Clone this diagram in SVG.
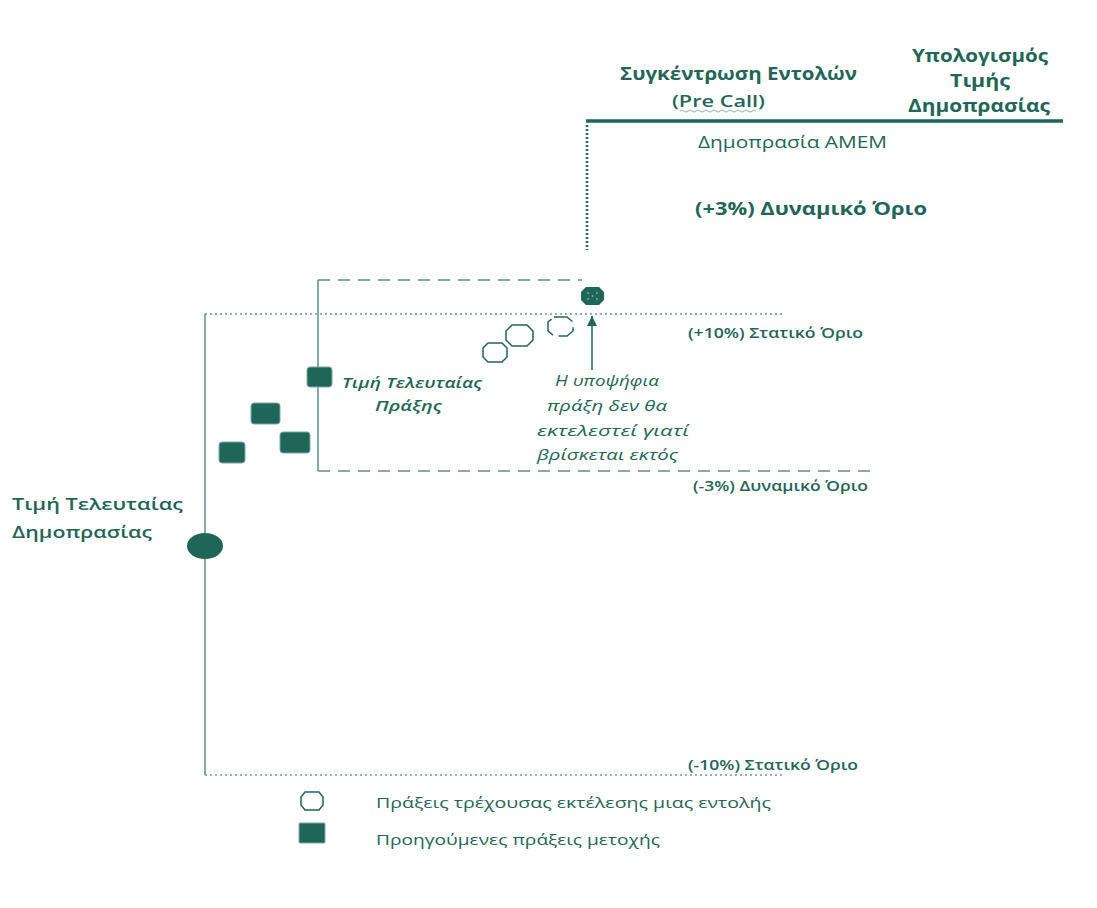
<svg xmlns="http://www.w3.org/2000/svg" width="1097" height="908" viewBox="0 0 1097 908">
<defs>
<style>
text{font-family:"Open Sans","Noto Sans","DejaVu Sans",sans-serif;fill:#1f6658}
.b{font-weight:700}
.sb{font-weight:600}
.it{font-style:italic}
.dash{stroke:#5f8f86;stroke-width:1.5;fill:none;stroke-dasharray:12 8}
.dot{stroke:#6f9a92;stroke-width:1.5;fill:none;stroke-dasharray:2 3}
.sol{stroke:#5f8f86;stroke-width:1.5;fill:none}
.prev{fill:#1f6658;stroke:#7fa8a0;stroke-width:1}
.cur{fill:#fff;stroke:#1f6658;stroke-width:1.5}
</style>
<marker id="ah" viewBox="0 0 10 10" refX="10" refY="5" markerWidth="10" markerHeight="10" markerUnits="userSpaceOnUse" orient="auto">
<path d="M0,0 L10,5 L0,10 Z" fill="#1f6658"/>
</marker>
</defs>
<rect width="1097" height="908" fill="#fff"/>

<g id="header">
<line x1="586" y1="121" x2="1063" y2="121" stroke="#1f6658" stroke-width="3.5"/>
<text class="b" x="620" y="80" font-size="17" textLength="237" lengthAdjust="spacingAndGlyphs">Συγκέντρωση Εντολών</text>
<text class="sb" x="672" y="107" font-size="17" textLength="93" lengthAdjust="spacingAndGlyphs">(Pre Call)</text>
<path d="M680,111 q2,-2 4,0 t4,0 t4,0 t4,0 t4,0 t4,0 t4,0 t4,0 t4,0 t4,0 t4,0 t4,0 t4,0 t4,0 t4,0 t4,0 t4,0 t4,0 t4,0" fill="none" stroke="#8fb2aa" stroke-width="1"/>
<text class="b" x="912" y="62" font-size="17" textLength="136" lengthAdjust="spacingAndGlyphs">Υπολογισμός</text>
<text class="b" x="950" y="87" font-size="17" textLength="60" lengthAdjust="spacingAndGlyphs">Τιμής</text>
<text class="b" x="908" y="112" font-size="17" textLength="142" lengthAdjust="spacingAndGlyphs">Δημοπρασίας</text>
<text x="698" y="148" font-size="16" textLength="189" lengthAdjust="spacingAndGlyphs">Δημοπρασία AMEM</text>
<text class="b" x="695" y="215" font-size="17.5" textLength="232" lengthAdjust="spacingAndGlyphs">(+3%) Δυναμικό Όριο</text>
</g>

<g id="connectors">
<line x1="587" y1="125" x2="587" y2="250" stroke="#1f6658" stroke-width="2.5" stroke-dasharray="2 2"/>
<line class="dash" x1="318" y1="280" x2="582" y2="280"/>
<line class="sol" x1="318" y1="280" x2="318" y2="471"/>
<line class="dash" x1="318" y1="471" x2="874" y2="471"/>
<line class="dot" x1="205" y1="314" x2="785" y2="314"/>
<line class="sol" x1="205" y1="314" x2="205" y2="775"/>
<line class="dot" x1="205" y1="775" x2="783" y2="775"/>
<line x1="592" y1="370" x2="592" y2="316" stroke="#1f6658" stroke-width="1.5" marker-end="url(#ah)"/>
</g>

<g id="limits">
<text class="sb" x="688" y="338" font-size="14" textLength="175" lengthAdjust="spacingAndGlyphs">(+10%) Στατικό Όριο</text>
<text class="sb" x="693" y="491" font-size="14" textLength="175" lengthAdjust="spacingAndGlyphs">(-3%) Δυναμικό Όριο</text>
<text class="sb" x="688" y="770" font-size="14" textLength="170" lengthAdjust="spacingAndGlyphs">(-10%) Στατικό Όριο</text>
</g>

<g id="auction-price">
<ellipse cx="205" cy="546" rx="18" ry="13" fill="#1f6658"/>
<text class="sb" x="12" y="510" font-size="17" textLength="171" lengthAdjust="spacingAndGlyphs">Τιμή Τελευταίας</text>
<text class="sb" x="12" y="538" font-size="17" textLength="140" lengthAdjust="spacingAndGlyphs">Δημοπρασίας</text>
</g>

<g id="previous-trades">
<rect class="prev" x="307" y="367" width="25" height="20" rx="3"/>
<rect class="prev" x="251" y="403" width="29" height="21" rx="3"/>
<rect class="prev" x="219" y="442" width="26" height="21" rx="3"/>
<rect class="prev" x="280" y="432" width="30" height="21" rx="3"/>
<text class="it" x="342" y="388" font-size="15" font-weight="600" textLength="140" lengthAdjust="spacingAndGlyphs">Τιμή Τελευταίας</text>
<text class="it" x="375" y="411" font-size="15" font-weight="600" textLength="67" lengthAdjust="spacingAndGlyphs">Πράξης</text>
</g>

<g id="current-trades">
<polygon class="cur" points="488,343 502,343 507,348 507,357 502,362 488,362 483,357 483,348"/>
<polygon class="cur" points="512,325 527,325 533,331 533,340 527,346 512,346 506,340 506,331"/>
<polygon class="cur" points="554,317 567,317 573,322 573,331 567,336 554,336 548,331 548,322" stroke-dasharray="20 6"/>
</g>

<g id="candidate">
<polygon points="586,287 599,287 604,292 604,300 599,305 586,305 581,300 581,292" fill="#1f6658"/>
<circle cx="588" cy="293" r="1" fill="#7fa8a0"/>
<circle cx="597" cy="293" r="1" fill="#7fa8a0"/>
<circle cx="588" cy="299" r="1" fill="#7fa8a0"/>
<circle cx="597" cy="299" r="1" fill="#7fa8a0"/>
<circle cx="592.5" cy="296" r="1" fill="#7fa8a0"/>
<text class="it" x="555" y="386" font-size="15" textLength="104" lengthAdjust="spacingAndGlyphs">Η υποψήφια</text>
<text class="it" x="547" y="411" font-size="15" textLength="120" lengthAdjust="spacingAndGlyphs">πράξη δεν θα</text>
<text class="it" x="537" y="436" font-size="15" textLength="152" lengthAdjust="spacingAndGlyphs">εκτελεστεί γιατί</text>
<text class="it" x="537" y="460" font-size="15" textLength="141" lengthAdjust="spacingAndGlyphs">βρίσκεται εκτός</text>
</g>

<g id="legend">
<polygon class="cur" points="305,792 319,792 323,797 323,805 319,810 305,810 301,805 301,797" stroke-width="1.2"/>
<text x="376" y="808" font-size="15" textLength="395" lengthAdjust="spacingAndGlyphs">Πράξεις τρέχουσας εκτέλεσης μιας εντολής</text>
<rect class="prev" x="299" y="823" width="26" height="20" rx="1"/>
<text x="376" y="845" font-size="15" textLength="284" lengthAdjust="spacingAndGlyphs">Προηγούμενες πράξεις μετοχής</text>
</g>
</svg>
